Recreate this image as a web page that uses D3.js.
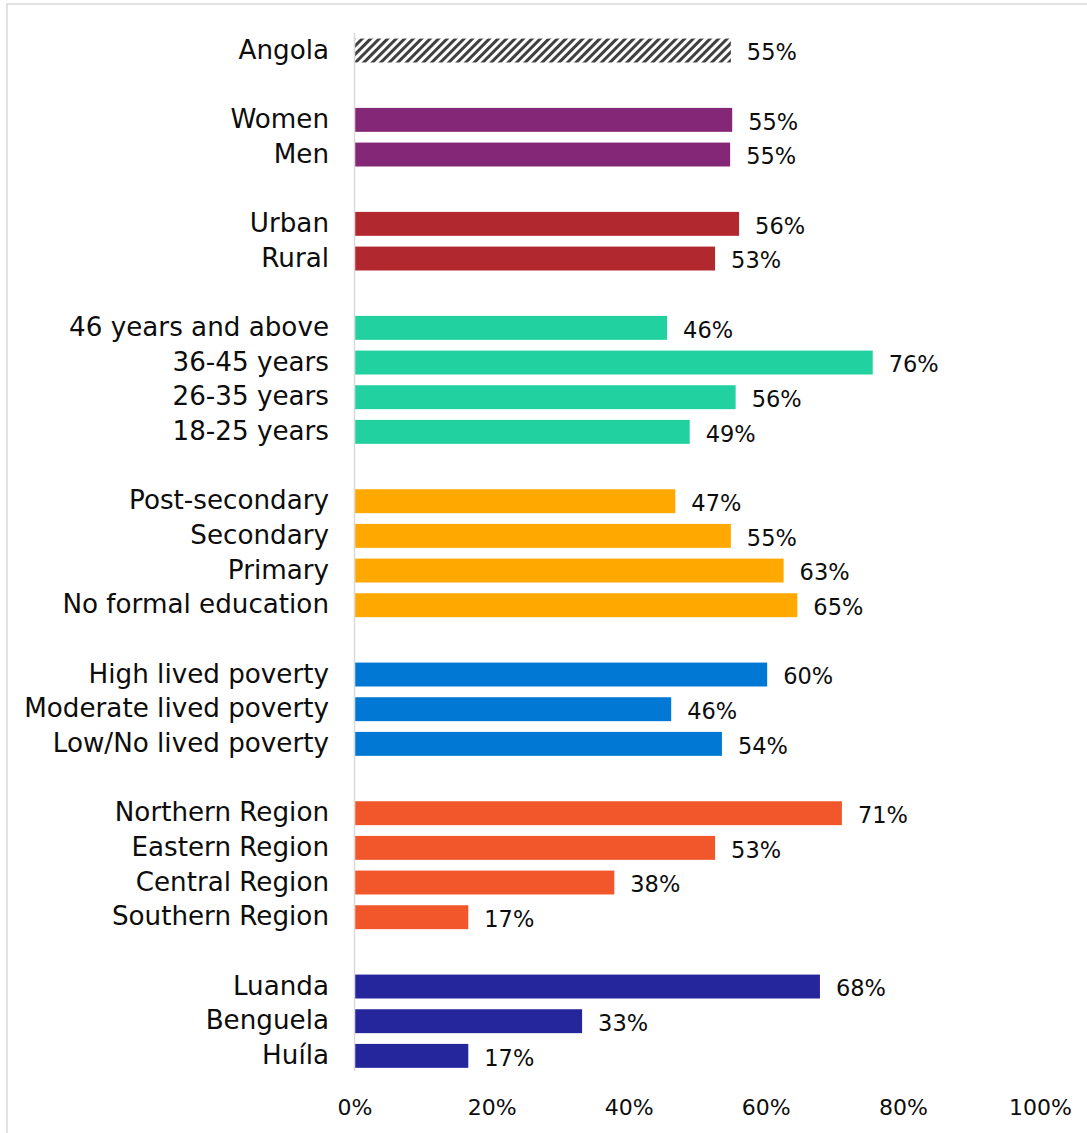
<!DOCTYPE html>
<html>
<head>
<meta charset="utf-8">
<script src="https://cdn.jsdelivr.net/npm/d3@7"></script>
<style>
  body { margin: 0; background: #fff; }
  text { font-family: "DejaVu Sans", sans-serif; fill: #0d0d0d; }
</style>
</head>
<body>
<div id="my_dataviz"></div>
<script>
// categories, top to bottom
var categories = ["Angola",
  "Women", "Men",
  "Urban", "Rural",
  "46 years and above", "36-45 years", "26-35 years", "18-25 years",
  "Post-secondary", "Secondary", "Primary", "No formal education",
  "High lived poverty", "Moderate lived poverty", "Low/No lived poverty",
  "Northern Region", "Eastern Region", "Central Region", "Southern Region",
  "Luanda", "Benguela", "Huíla"];

// percent values
var values = [54.9,
  55.1, 54.8,
  56.1, 52.6,
  45.6, 75.6, 55.6, 48.9,
  46.8, 54.9, 62.6, 64.6,
  60.2, 46.2, 53.6,
  71.1, 52.6, 37.9, 16.6,
  67.9, 33.2, 16.6];

// which group each category belongs to
var groups = [0, 1, 1, 2, 2, 3, 3, 3, 3, 4, 4, 4, 4, 5, 5, 5, 6, 6, 6, 6, 7, 7, 7];
var groupColors = ["url(#hatch)", "#852777", "#B1282F", "#22D1A0", "#FFA800", "#0078D4", "#F2572B", "#26269C"];

var xTicks = [0, 20, 40, 60, 80, 100];

var width = 1087, height = 1133;

var svg = d3.select("#my_dataviz")
  .append("svg")
    .attr("width", width)
    .attr("height", height);

// hatch pattern for the country total
svg.append("defs").append("pattern")
    .attr("id", "hatch")
    .attr("patternUnits", "userSpaceOnUse")
    .attr("width", 6)
    .attr("height", 6)
    .attr("patternTransform", "rotate(45)")
  .append("rect")
    .attr("width", 3)
    .attr("height", 6)
    .attr("fill", "#404040");

// chart frame (only top and left edges are visible)
svg.append("rect")
    .attr("x", 7)
    .attr("y", 4)
    .attr("width", 1300)
    .attr("height", 1300)
    .attr("fill", "none")
    .attr("stroke", "#d9d9d9")
    .attr("stroke-width", 1.5);

// rows, with an empty row between groups
var rows = [];
categories.forEach(function(c, i) {
  if (i > 0 && groups[i] != groups[i - 1]) rows.push("gap" + groups[i]);
  rows.push(c);
});

var yScale = d3.scaleBand()
  .domain(rows)
  .range([33.2, 1073.2])
  .paddingInner(0.31)
  .paddingOuter(0.155);

var xScale = d3.scaleLinear()
  .domain([0, 100])
  .range([354.5, 1040]);

// x axis labels only
var xAxis = d3.axisBottom(xScale)
  .tickValues(xTicks)
  .tickSize(0)
  .tickPadding(0)
  .tickFormat(function(d) { return d + "%"; });

svg.append("g")
  .attr("transform", "translate(0,1099)")
  .call(xAxis)
  .call(function(g) { g.select(".domain").remove(); })
  .selectAll("text")
    .attr("font-size", "22px")
    .attr("dy", "0.71em");

// vertical axis line
svg.append("line")
  .attr("x1", xScale(0))
  .attr("x2", xScale(0))
  .attr("y1", 33)
  .attr("y2", 1071)
  .attr("stroke", "#d9d9d9")
  .attr("stroke-width", 1.5);

var data = categories.map(function(c, i) {
  return {name: c, value: values[i], group: groups[i]};
});

// bars
svg.selectAll(".bar")
  .data(data)
  .enter()
  .append("rect")
    .attr("class", "bar")
    .attr("x", xScale(0) + 0.75)
    .attr("y", function(d) { return yScale(d.name); })
    .attr("width", function(d) { return xScale(d.value) - xScale(0) - 0.75; })
    .attr("height", yScale.bandwidth())
    .attr("fill", function(d) { return groupColors[d.group]; });

// category labels
svg.selectAll(".cat")
  .data(data)
  .enter()
  .append("text")
    .attr("class", "cat")
    .attr("x", 329)
    .attr("y", function(d) { return yScale(d.name) + yScale.bandwidth() / 2 - 1; })
    .attr("dy", "0.35em")
    .attr("text-anchor", "end")
    .attr("font-size", "26.2px")
    .text(function(d) { return d.name; });

// value labels
svg.selectAll(".val")
  .data(data)
  .enter()
  .append("text")
    .attr("class", "val")
    .attr("x", function(d) { return xScale(d.value) + 16; })
    .attr("y", function(d) { return yScale(d.name) + yScale.bandwidth() / 2 + 2; })
    .attr("dy", "0.35em")
    .attr("font-size", "22.5px")
    .text(function(d) { return Math.round(d.value) + "%"; });
</script>
</body>
</html>
